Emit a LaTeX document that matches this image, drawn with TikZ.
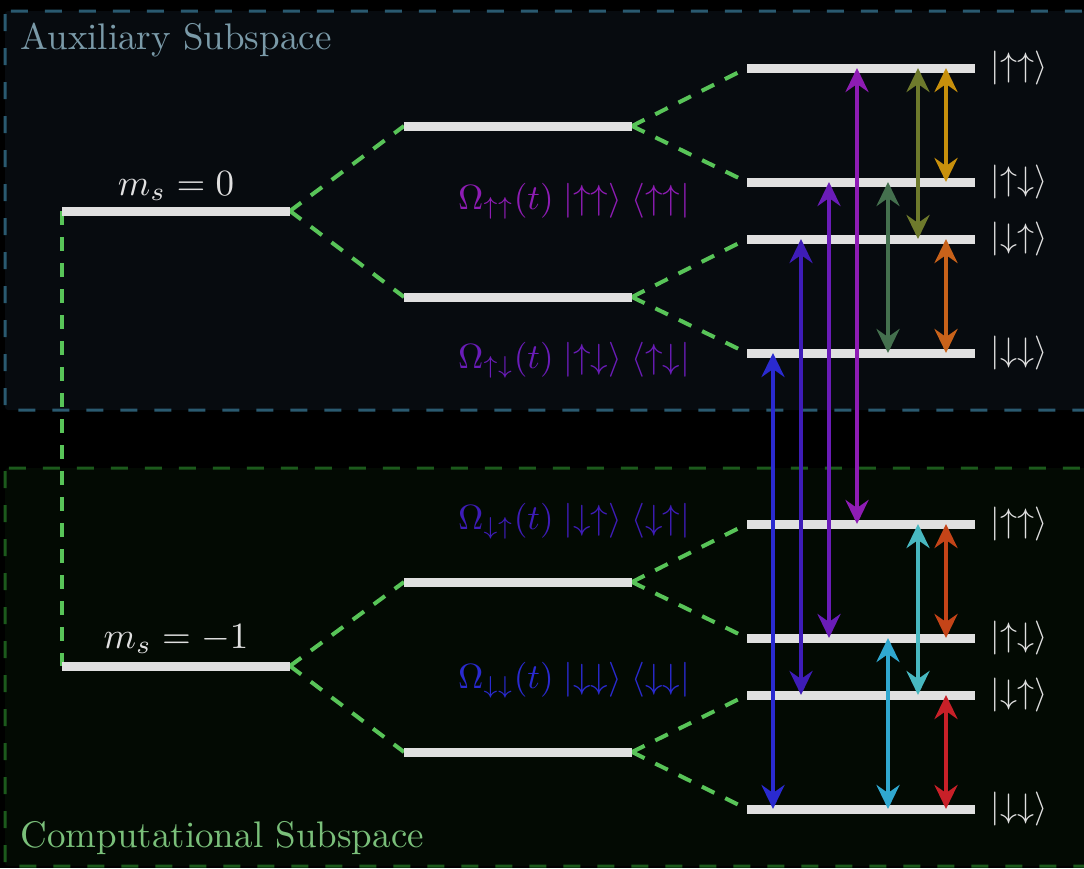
\documentclass[tikz,border=0pt]{standalone}
\usetikzlibrary{arrows.meta}
\definecolor{auxfill}{HTML}{070B0F}
\definecolor{auxline}{HTML}{2A5A70}
\definecolor{auxtext}{HTML}{7A9AA8}
\definecolor{compfill}{HTML}{030A03}
\definecolor{compline}{HTML}{1C5A1C}
\definecolor{comptext}{HTML}{7AC07A}
\definecolor{gdashc}{HTML}{58C458}
\definecolor{barc}{HTML}{E0E0E0}
\definecolor{cPurple}{HTML}{8E1CB4}
\definecolor{cViolet}{HTML}{6A1CB8}
\definecolor{cIndigo}{HTML}{3E1CB8}
\definecolor{cBlue}{HTML}{2A2AD0}
\definecolor{cOlive}{HTML}{6E7A2C}
\definecolor{cGold}{HTML}{C8900C}
\definecolor{cSage}{HTML}{44704E}
\definecolor{cOrange}{HTML}{C8621A}
\definecolor{cCyan}{HTML}{48B8C0}
\definecolor{cRust}{HTML}{C44418}
\definecolor{cSky}{HTML}{30A8D0}
\definecolor{cRed}{HTML}{C82028}
\begin{document}
\begin{tikzpicture}[x=1pt,y=-1pt,
  lvl/.style={line width=9pt,draw=barc},
  gdash/.style={draw=gdashc,line width=4pt,dash pattern=on 14pt off 12pt},
  boxline/.style={line width=3pt,dash pattern=on 17pt off 17pt,rounded corners=3pt},
  arr/.style={line width=4pt,{Stealth[length=24pt,width=23pt,inset=8pt]}-{Stealth[length=24pt,width=23pt,inset=8pt]}},
  big/.style={scale=3.7,inner sep=0pt},
  omg/.style={scale=3.5,inner sep=0pt,anchor=base},
  ket/.style={scale=3.4,inner sep=0pt,anchor=west,text=barc}]
\useasboundingbox (0,0) rectangle (1084,868);
\clip (0,0) rectangle (1084,868);
\fill[black] (0,0) rectangle (1084,868);
% subspace boxes
\draw[boxline,draw=auxline,fill=auxfill] (5,11) rectangle (1100,410);
\draw[boxline,draw=compline,fill=compfill] (5,468) rectangle (1100,866);
\node[big,anchor=base west,text=auxtext] (auxlbl) at (20,49) {Auxiliary Subspace};
\node[big,anchor=base west,text=comptext] (complbl) at (20,847) {Computational Subspace};
% level coordinates
\coordinate (m0l) at (62,211); \coordinate (m0r) at (290,211);
\coordinate (m1l) at (62,666); \coordinate (m1r) at (290,666);
\coordinate (p1l) at (404,126); \coordinate (p1r) at (632,126);
\coordinate (p2l) at (404,297); \coordinate (p2r) at (632,297);
\coordinate (q1l) at (404,582); \coordinate (q1r) at (632,582);
\coordinate (q2l) at (404,752); \coordinate (q2r) at (632,752);
\foreach \n/\y in {aUU/68,aUD/182,aDU/239,aDD/353,cUU/524,cUD/638,cDU/695,cDD/809}{
  \coordinate (\n l) at (747,\y); \coordinate (\n r) at (975,\y);}
% dashed connectors
\draw[gdash] (m0l) -- (m1l);
\draw[gdash] (m0r) -- (p1l); \draw[gdash] (m0r) -- (p2l);
\draw[gdash] (m1r) -- (q1l); \draw[gdash] (m1r) -- (q2l);
\draw[gdash] (p1r) -- (aUUl); \draw[gdash] (p1r) -- (aUDl);
\draw[gdash] (p2r) -- (aDUl); \draw[gdash] (p2r) -- (aDDl);
\draw[gdash] (q1r) -- (cUUl); \draw[gdash] (q1r) -- (cUDl);
\draw[gdash] (q2r) -- (cDUl); \draw[gdash] (q2r) -- (cDDl);
% levels
\foreach \a in {m0,m1,p1,p2,q1,q2,aUU,aUD,aDU,aDD,cUU,cUD,cDU,cDD}{
  \draw[lvl] (\a l) -- (\a r);}
% level labels
\node[big,anchor=base,text=barc] (ms0) at (176,195) {$m_s = 0$};
\node[big,anchor=base,text=barc] (ms1) at (176,648) {$m_s = -1$};
% Omega labels
\node[omg,text=cPurple] (o1) at (574,209) {$\Omega_{\uparrow\uparrow}(t)\;|{\uparrow\uparrow}\rangle\;\langle{\uparrow\uparrow}|$};
\node[omg,text=cViolet] (o2) at (574,368) {$\Omega_{\uparrow\downarrow}(t)\;|{\uparrow\downarrow}\rangle\;\langle{\uparrow\downarrow}|$};
\node[omg,text=cIndigo] (o3) at (574,529) {$\Omega_{\downarrow\uparrow}(t)\;|{\downarrow\uparrow}\rangle\;\langle{\downarrow\uparrow}|$};
\node[omg,text=cBlue] (o4) at (574,688) {$\Omega_{\downarrow\downarrow}(t)\;|{\downarrow\downarrow}\rangle\;\langle{\downarrow\downarrow}|$};
% ket labels
\node[ket] (kaUU) at (990,68) {$|{\uparrow\uparrow}\rangle$};
\node[ket] (kaUD) at (990,182) {$|{\uparrow\downarrow}\rangle$};
\node[ket] (kaDU) at (990,239) {$|{\downarrow\uparrow}\rangle$};
\node[ket] (kaDD) at (990,353) {$|{\downarrow\downarrow}\rangle$};
\node[ket] (kcUU) at (990,524) {$|{\uparrow\uparrow}\rangle$};
\node[ket] (kcUD) at (990,638) {$|{\uparrow\downarrow}\rangle$};
\node[ket] (kcDU) at (990,695) {$|{\downarrow\uparrow}\rangle$};
\node[ket] (kcDD) at (990,809) {$|{\downarrow\downarrow}\rangle$};
% arrow columns
\coordinate (x773) at (773,0); \coordinate (x801) at (801,0);
\coordinate (x829) at (829,0); \coordinate (x857) at (857,0);
\coordinate (x888) at (888,0); \coordinate (x918) at (918,0);
\coordinate (x946) at (946,0);
% transitions
\draw[arr,cPurple] (x857 |- aUUl) -- (x857 |- cUUl);
\draw[arr,cViolet] (x829 |- aUDl) -- (x829 |- cUDl);
\draw[arr,cIndigo] (x801 |- aDUl) -- (x801 |- cDUl);
\draw[arr,cBlue] (x773 |- aDDl) -- (x773 |- cDDl);
\draw[arr,cOlive] (x918 |- aUUl) -- (x918 |- aDUl);
\draw[arr,cGold] (x946 |- aUUl) -- (x946 |- aUDl);
\draw[arr,cSage] (x888 |- aUDl) -- (x888 |- aDDl);
\draw[arr,cOrange] (x946 |- aDUl) -- (x946 |- aDDl);
\draw[arr,cCyan] (x918 |- cUUl) -- (x918 |- cDUl);
\draw[arr,cRust] (x946 |- cUUl) -- (x946 |- cUDl);
\draw[arr,cSky] (x888 |- cUDl) -- (x888 |- cDDl);
\draw[arr,cRed] (x946 |- cDUl) -- (x946 |- cDDl);
\end{tikzpicture}
\end{document}
